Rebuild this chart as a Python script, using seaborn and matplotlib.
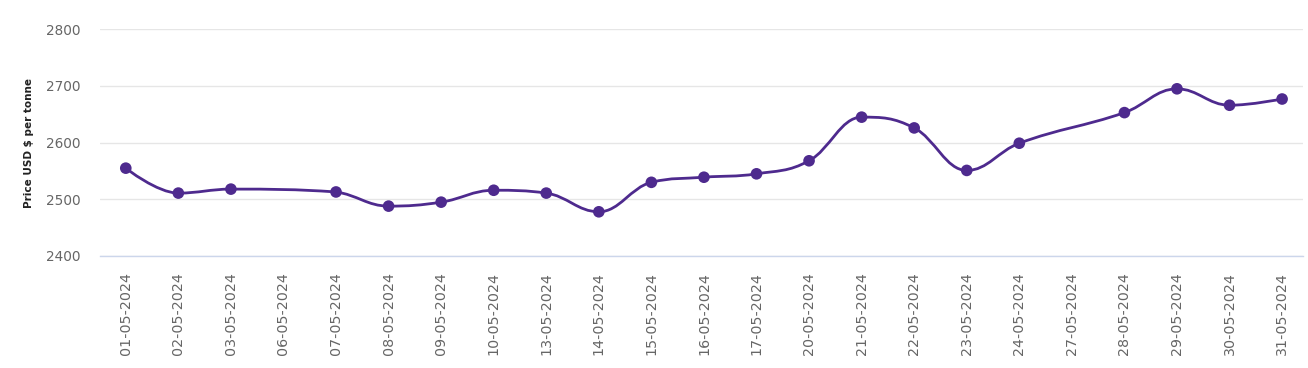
import numpy as np
import pandas as pd
import seaborn as sns
import matplotlib.pyplot as plt
from matplotlib.path import Path
from matplotlib.patches import PathPatch

# Category axis (every date label shown on the chart)
dates = ["01-05-2024", "02-05-2024", "03-05-2024", "06-05-2024", "07-05-2024",
         "08-05-2024", "09-05-2024", "10-05-2024", "13-05-2024", "14-05-2024",
         "15-05-2024", "16-05-2024", "17-05-2024", "20-05-2024", "21-05-2024",
         "22-05-2024", "23-05-2024", "24-05-2024", "27-05-2024", "28-05-2024",
         "29-05-2024", "30-05-2024", "31-05-2024"]

# Dates that actually have a price (06-05 and 27-05 have none)
price_dates = ["01-05-2024", "02-05-2024", "03-05-2024", "07-05-2024", "08-05-2024",
               "09-05-2024", "10-05-2024", "13-05-2024", "14-05-2024", "15-05-2024",
               "16-05-2024", "17-05-2024", "20-05-2024", "21-05-2024", "22-05-2024",
               "23-05-2024", "24-05-2024", "28-05-2024", "29-05-2024", "30-05-2024",
               "31-05-2024"]
prices = [2555, 2511, 2518, 2513, 2488, 2495, 2516, 2511, 2478, 2530,
          2539, 2545, 2568, 2645, 2626, 2551, 2599, 2653, 2695, 2666, 2677]

yticks = [2400, 2500, 2600, 2700, 2800]

line_col = "#4e2a8e"

df = pd.DataFrame({"date": price_dates, "price": prices})
df["pos"] = df["date"].map({d: i for i, d in enumerate(dates)})


# spline path like the one Highcharts draws (smoothing 1.5, no overshoot)
def spline_path(xs, ys, smoothing=1.5):
    n = len(xs)
    ctrl = []
    for i in range(n):
        x, y = xs[i], ys[i]
        if 0 < i < n - 1:
            lx, ly, nx, ny = xs[i - 1], ys[i - 1], xs[i + 1], ys[i + 1]
            d = smoothing + 1
            lcx, lcy = (smoothing * x + lx) / d, (smoothing * y + ly) / d
            rcx, rcy = (smoothing * x + nx) / d, (smoothing * y + ny) / d
            corr = 0
            if rcx != lcx:
                corr = (rcy - lcy) * (rcx - x) / (rcx - lcx) + y - rcy
            lcy += corr
            rcy += corr
            if lcy > ly and lcy > y:
                lcy = max(ly, y)
                rcy = 2 * y - lcy
            elif lcy < ly and lcy < y:
                lcy = min(ly, y)
                rcy = 2 * y - lcy
            if rcy > ny and rcy > y:
                rcy = max(ny, y)
                lcy = 2 * y - rcy
            elif rcy < ny and rcy < y:
                rcy = min(ny, y)
                lcy = 2 * y - rcy
            ctrl.append(((lcx, lcy), (rcx, rcy)))
        else:
            ctrl.append(((x, y), (x, y)))
    verts = [(xs[0], ys[0])]
    codes = [Path.MOVETO]
    for i in range(1, n):
        verts += [ctrl[i - 1][1], ctrl[i][0], (xs[i], ys[i])]
        codes += [Path.CURVE4] * 3
    return Path(verts, codes)


sns.set_style("white")
plt.rcParams["font.family"] = ["DejaVu Sans"]

fig = plt.figure(figsize=(13.08, 3.68), dpi=100)
ax = fig.add_axes([99.5 / 1308, 112 / 368, (1303 - 99.5) / 1308, (338.7 - 112) / 368])

path = spline_path(df["pos"].tolist(), df["price"].tolist())
ax.add_patch(PathPatch(path, facecolor="none", edgecolor=line_col, lw=2, zorder=3))

sns.scatterplot(data=df, x="pos", y="price", ax=ax, color=line_col, s=70,
                edgecolor="none", zorder=4, legend=False)

ax.set_xlim(-0.5, -0.5 + (1303 - 99.5) / 52.56)
ax.set_ylim(2400, 2800)
ax.set_xticks(range(len(dates)))
ax.set_xticklabels(dates, rotation=90, fontsize=10.3, color="#666666")
ax.set_yticks(yticks)
ax.set_yticklabels([str(v) for v in yticks], fontsize=9.8, color="#666666")
ax.tick_params(axis="x", length=0, pad=11.5)
ax.tick_params(axis="y", length=0, pad=13.5)

ax.grid(axis="y", color="#e6e6e6", lw=1)
ax.set_axisbelow(True)
for side in ["top", "right", "left"]:
    ax.spines[side].set_visible(False)
ax.spines["bottom"].set_color("#ccd6eb")
ax.spines["bottom"].set_linewidth(1)

ax.set_xlabel("")
ax.set_ylabel("Price USD $ per tonne", fontsize=7.5, fontweight="bold", color="#222222")
ax.yaxis.set_label_coords(-(99.5 - 34) / (1303 - 99.5), (256 - 142.5) / (256 - 29.3))

fig.savefig("out.png", dpi=100)
